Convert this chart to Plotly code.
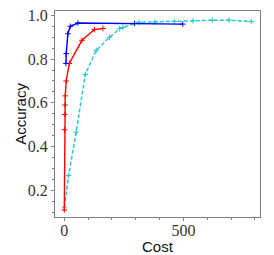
import plotly.graph_objects as go

red_cost = [0, 1, 2, 3, 4, 8, 21, 74, 126, 162]
red_acc = [0.11, 0.477, 0.547, 0.59, 0.632, 0.70, 0.78, 0.886, 0.935, 0.94]

blue_cost = [7, 8, 15, 25, 57, 295, 497]
blue_acc = [0.78, 0.825, 0.916, 0.95, 0.965, 0.963, 0.96]

cyan_cost = [1, 18, 50, 88, 134, 190, 232, 246, 314, 380, 462, 540, 621, 691, 784]
cyan_acc = [0.123, 0.268, 0.466, 0.73, 0.84, 0.90, 0.939, 0.945, 0.969, 0.970, 0.972, 0.975, 0.978, 0.978, 0.972]

x_ticks = [0, 500]
y_ticks = [0.2, 0.4, 0.6, 0.8, 1.0]

fig = go.Figure()


def add(xs, ys, color, dash):
    fig.add_trace(go.Scatter(x=xs, y=ys, mode="lines+markers",
                             line=dict(color=color, width=1.4, dash=dash),
                             marker=dict(symbol="cross-thin-open", size=4, color=color,
                                         line=dict(width=1, color=color))))


add(cyan_cost, cyan_acc, "#20c8c8", "4px,2px")
add(red_cost, red_acc, "#ff0000", "solid")
add(blue_cost, blue_acc, "#0000ff", "solid")

axis_common = dict(showgrid=False, zeroline=False, showline=True, linecolor="#808080", linewidth=1.2,
                   mirror=True, ticks="outside", tickcolor="#808080", ticklen=3, automargin=False,
                   ticklabeloverflow="allow",
                   tickfont=dict(family="Liberation Serif", size=16, color="#333333"))
fig.update_xaxes(range=[-39, 821], tickvals=x_ticks, ticktext=[str(v) for v in x_ticks],
                 minor=dict(dtick=100, ticks="outside", ticklen=2, tickcolor="#808080"),
                 ticklabelstandoff=-4, **axis_common)
fig.update_yaxes(range=[0.078, 1.02], tickvals=y_ticks, ticktext=["%.1f" % v for v in y_ticks],
                 minor=dict(dtick=0.05, ticks="outside", ticklen=2, tickcolor="#808080"),
                 **axis_common)
title_font = dict(family="Liberation Sans", size=15, color="#111111")
fig.add_annotation(text="Cost", xref="paper", yref="paper", x=0.5, y=-0.143,
                   xanchor="center", yanchor="middle", showarrow=False, font=title_font)
fig.add_annotation(text="Accuracy", xref="paper", yref="paper", x=-0.172, y=0.5, textangle=-90,
                   xanchor="center", yanchor="middle", showarrow=False, font=title_font)
# body has an 8px default margin; size the figure so the plot area lands where the reference's does
fig.update_layout(width=266, height=247, margin=dict(l=47, r=14, t=3, b=38),
                  plot_bgcolor="white", paper_bgcolor="white", showlegend=False)
fig.write_html("out.html")
